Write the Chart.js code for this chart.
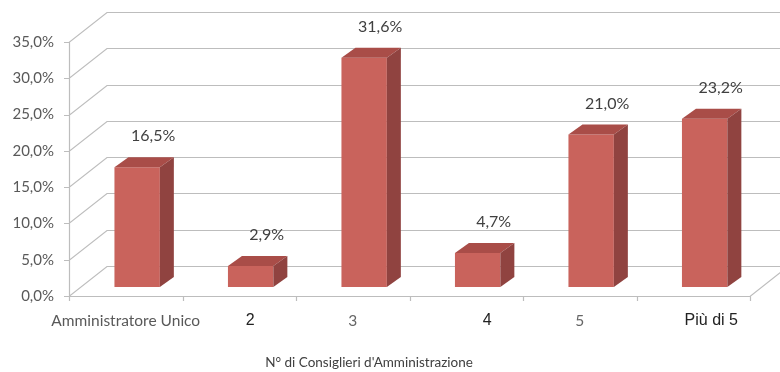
<!DOCTYPE html>
<html lang="it">
<head>
<meta charset="UTF-8">
<title>Consiglieri d'Amministrazione</title>
<script src="https://cdn.jsdelivr.net/npm/chart.js"></script>
<style>
    body { margin: 0; background: #fff; }
    canvas { display: block; }
</style>
</head>
<body>
<canvas id="chart" width="780" height="372"></canvas>
<script>
// data
const categories = ['Amministratore Unico', '2', '3', '4', '5', 'Più di 5'];
const shares = [16.5, 2.9, 31.6, 4.7, 21.0, 23.2];
const axisTitle = "N° di Consiglieri d'Amministrazione";

// look of the fake 3d box
const depth = { x: 38, y: -30 };      // front wall -> back wall
const barPlane = 0.3;                 // bars sit 30% into the box
const barDepth = { x: 14, y: -10 };
const gridColor = '#bdbdbd';
const faceFront = '#c9635c', faceTop = '#a94d48', faceSide = '#904340';

// the category labels were clearly pasted with mixed fonts
const labelStyle = [
    { font: '15.5px Lato', color: '#595959', shift: 0 },
    { font: '16px "Liberation Sans"', color: '#222', shift: 11 },
    { font: '15.5px Lato', color: '#666', shift: 0 },
    { font: '16px "Liberation Sans"', color: '#222', shift: 21 },
    { font: '15.5px Lato', color: '#666', shift: 0 },
    { font: '16px "Liberation Sans"', color: '#222', shift: 18 }
];

const fmt = v => v.toFixed(1).replace('.', ',') + '%';

const box3d = {
    id: 'box3d',
    beforeDatasetsDraw(chart) {
        const { ctx, chartArea: a, scales: { y } } = chart;
        const n = categories.length;
        const slot = (a.right - a.left) / n;
        ctx.save();
        ctx.strokeStyle = gridColor;
        ctx.lineWidth = 1.2;
        ctx.beginPath();
        y.ticks.forEach(t => {
            const py = Math.round(y.getPixelForValue(t.value)) + 0.5;
            ctx.moveTo(a.left - 5, py);
            ctx.lineTo(a.left, py);
            ctx.lineTo(a.left + depth.x, py + depth.y);
            ctx.lineTo(chart.width, py + depth.y);
        });
        const fy = a.bottom + 0.5;
        ctx.moveTo(a.left, fy);
        ctx.lineTo(a.right, fy);
        ctx.lineTo(a.right + depth.x, fy + depth.y);
        ctx.moveTo(a.left + 0.5, a.top);
        ctx.lineTo(a.left + 0.5, a.bottom);
        for (let i = 0; i <= n; i++) {
            const px = Math.round(a.left + slot * i) + 0.5;
            ctx.moveTo(px, a.bottom);
            ctx.lineTo(px, a.bottom + 5);
        }
        ctx.stroke();
        ctx.restore();

        // bars get drawn by chart.js, pushed back into the box
        ctx.save();
        ctx.translate(depth.x * barPlane, depth.y * barPlane);
    },
    afterDatasetsDraw(chart) {
        const { ctx, chartArea: a } = chart;
        const bars = chart.getDatasetMeta(0).data;
        bars.forEach(bar => {
            const l = bar.x - bar.width / 2, r = bar.x + bar.width / 2;
            const t = bar.y, b = bar.base;
            ctx.fillStyle = faceTop;
            ctx.beginPath();
            ctx.moveTo(l, t);
            ctx.lineTo(l + barDepth.x, t + barDepth.y);
            ctx.lineTo(r + barDepth.x, t + barDepth.y);
            ctx.lineTo(r, t);
            ctx.closePath();
            ctx.fill();
            ctx.fillStyle = faceSide;
            ctx.beginPath();
            ctx.moveTo(r, t);
            ctx.lineTo(r + barDepth.x, t + barDepth.y);
            ctx.lineTo(r + barDepth.x, b + barDepth.y);
            ctx.lineTo(r, b);
            ctx.closePath();
            ctx.fill();
        });
        ctx.restore();

        // value labels
        ctx.save();
        ctx.font = '16px Lato';
        ctx.fillStyle = '#404040';
        ctx.textAlign = 'center';
        ctx.textBaseline = 'middle';
        bars.forEach((bar, i) => {
            ctx.fillText(fmt(shares[i]),
                bar.x + depth.x * barPlane + 16,
                bar.y + depth.y * barPlane - 31);
        });

        // category labels + axis title
        const slot = (a.right - a.left) / categories.length;
        categories.forEach((c, i) => {
            const st = labelStyle[i];
            ctx.font = st.font;
            ctx.fillStyle = st.color;
            ctx.fillText(c, a.left + slot * (i + 0.5) + st.shift, 321);
        });
        ctx.font = '13.5px Lato';
        ctx.fillStyle = '#404040';
        ctx.fillText(axisTitle, 369, 363);
        ctx.restore();
    }
};

new Chart(document.getElementById('chart'), {
    type: 'bar',
    data: {
        labels: categories,
        datasets: [{
            data: shares,
            backgroundColor: faceFront,
            borderWidth: 0,
            categoryPercentage: 1,
            barPercentage: 0.4,
            clip: false
        }]
    },
    options: {
        responsive: false,
        animation: false,
        layout: { padding: { top: 42, right: 30, left: 0, bottom: 0 } },
        plugins: { legend: { display: false }, tooltip: { enabled: false } },
        scales: {
            x: {
                grid: { display: false, drawTicks: false },
                border: { display: false },
                ticks: { display: false },
                afterFit: s => { s.height = 76; }
            },
            y: {
                min: 0,
                max: 35,
                grid: { display: false, drawTicks: false },
                border: { display: false },
                ticks: {
                    stepSize: 5,
                    padding: 15,
                    color: '#595959',
                    font: { family: 'Lato', size: 15 },
                    callback: v => fmt(v)
                },
                afterFit: s => { s.width = 69; }
            }
        }
    },
    plugins: [box3d]
});
</script>
</body>
</html>
